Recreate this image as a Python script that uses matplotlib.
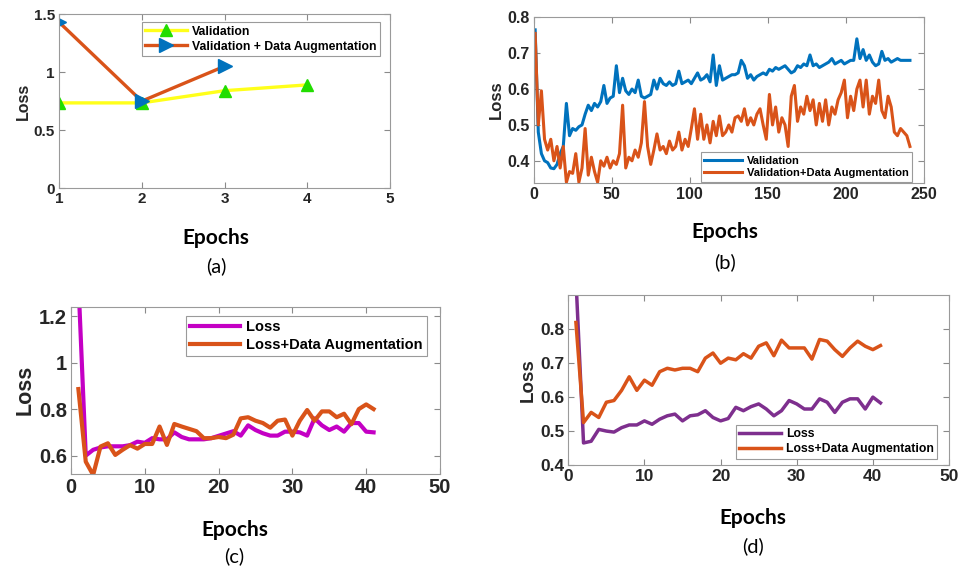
import numpy as np
import matplotlib
matplotlib.use("Agg")
import matplotlib.pyplot as plt
from matplotlib.ticker import FuncFormatter

# ---- (a) ----
ep_a_val = [1, 2, 3, 4]
loss_a_val = [0.735, 0.735, 0.84, 0.89]
ep_a_aug = [1, 2, 3]
loss_a_aug = [1.43, 0.75, 1.05]

# ---- (b) ---- (read every second epoch)
ep_b = list(range(1, 242, 2))
loss_b_val = [
    0.765, 0.48, 0.42, 0.40, 0.395, 0.38, 0.378, 0.39, 0.42, 0.44,
    0.56, 0.47, 0.49, 0.485, 0.495, 0.50, 0.53, 0.555, 0.54, 0.56,
    0.55, 0.565, 0.61, 0.56, 0.575, 0.58, 0.665, 0.59, 0.63, 0.595,
    0.585, 0.60, 0.59, 0.625, 0.58, 0.575, 0.58, 0.585, 0.625, 0.60,
    0.63, 0.615, 0.61, 0.62, 0.61, 0.615, 0.65, 0.615, 0.62, 0.625,
    0.615, 0.63, 0.645, 0.625, 0.63, 0.64, 0.62, 0.695, 0.61, 0.665,
    0.625, 0.63, 0.635, 0.64, 0.64, 0.645, 0.68, 0.665, 0.63, 0.64,
    0.625, 0.635, 0.64, 0.645, 0.64, 0.655, 0.65, 0.66, 0.655, 0.66,
    0.665, 0.655, 0.645, 0.65, 0.665, 0.66, 0.67, 0.665, 0.695, 0.665,
    0.67, 0.66, 0.665, 0.67, 0.675, 0.685, 0.67, 0.675, 0.68, 0.67,
    0.675, 0.68, 0.68, 0.74, 0.685, 0.71, 0.68, 0.695, 0.675, 0.665,
    0.67, 0.705, 0.68, 0.685, 0.675, 0.68, 0.685, 0.68, 0.68, 0.68,
    0.68]
loss_b_aug = [
    0.755, 0.50, 0.595, 0.46, 0.43, 0.46, 0.40, 0.44, 0.38, 0.44,
    0.34, 0.37, 0.365, 0.42, 0.34, 0.38, 0.49, 0.36, 0.41, 0.37,
    0.34, 0.40, 0.385, 0.41, 0.38, 0.40, 0.39, 0.42, 0.555, 0.38,
    0.41, 0.40, 0.43, 0.41, 0.45, 0.565, 0.44, 0.39, 0.43, 0.475,
    0.43, 0.44, 0.42, 0.455, 0.43, 0.44, 0.48, 0.43, 0.46, 0.44,
    0.49, 0.545, 0.46, 0.53, 0.46, 0.50, 0.45, 0.51, 0.47, 0.525,
    0.47, 0.48, 0.50, 0.48, 0.52, 0.525, 0.51, 0.545, 0.50, 0.52,
    0.50, 0.53, 0.545, 0.50, 0.46, 0.585, 0.50, 0.55, 0.48, 0.52,
    0.50, 0.44, 0.58, 0.61, 0.51, 0.55, 0.53, 0.58, 0.54, 0.57,
    0.50, 0.56, 0.51, 0.57, 0.50, 0.55, 0.53, 0.57, 0.59, 0.625,
    0.52, 0.58, 0.54, 0.60, 0.625, 0.55, 0.625, 0.53, 0.58, 0.56,
    0.625, 0.54, 0.52, 0.58, 0.55, 0.48, 0.47, 0.49, 0.48, 0.47,
    0.44]

# ---- (c) ----
ep_cd = list(range(1, 42))
loss_c = [1.35, 0.60, 0.625, 0.635, 0.64, 0.64, 0.64, 0.645, 0.66, 0.655,
          0.675, 0.67, 0.67, 0.70, 0.68, 0.67, 0.67, 0.67, 0.675, 0.685,
          0.695, 0.705, 0.686, 0.73, 0.71, 0.696, 0.686, 0.686, 0.703, 0.703,
          0.70, 0.686, 0.76, 0.73, 0.71, 0.725, 0.703, 0.74, 0.74, 0.703,
          0.70]
loss_c_aug = [0.886, 0.574, 0.517, 0.639, 0.653, 0.603, 0.625, 0.645, 0.63, 0.65,
              0.65, 0.725, 0.646, 0.736, 0.725, 0.715, 0.705, 0.675, 0.675, 0.68,
              0.675, 0.69, 0.76, 0.765, 0.75, 0.74, 0.72, 0.75, 0.755, 0.686,
              0.75, 0.796, 0.75, 0.79, 0.79, 0.765, 0.78, 0.735, 0.80, 0.82,
              0.80]

# ---- (d) ----
loss_d = [0.95, 0.465, 0.47, 0.505, 0.50, 0.497, 0.51, 0.518, 0.518, 0.53,
          0.52, 0.535, 0.545, 0.55, 0.53, 0.545, 0.548, 0.56, 0.54, 0.53,
          0.537, 0.57, 0.56, 0.572, 0.58, 0.565, 0.545, 0.56, 0.59, 0.58,
          0.565, 0.565, 0.595, 0.585, 0.555, 0.585, 0.595, 0.595, 0.565, 0.60,
          0.583]
loss_d_aug = [0.82, 0.525, 0.555, 0.54, 0.585, 0.59, 0.62, 0.66, 0.62, 0.65,
              0.635, 0.675, 0.685, 0.68, 0.685, 0.685, 0.675, 0.715, 0.73, 0.70,
              0.715, 0.71, 0.728, 0.715, 0.75, 0.76, 0.722, 0.768, 0.745, 0.745,
              0.745, 0.712, 0.77, 0.765, 0.74, 0.72, 0.745, 0.765, 0.75, 0.74,
              0.752]

BLUE = '#0072BD'
ORANGE = '#D95319'
PURPLE = '#7E2F8E'
MAGENTA = '#C400C4'
CAPFONT = 'Lato'

plt.rcParams['font.family'] = ['Liberation Sans', 'DejaVu Sans']
plt.rcParams['font.weight'] = 'bold'

W, H = 961, 572
fig = plt.figure(figsize=(W / 100, H / 100), dpi=100)


def add_axes(left, top, right, bottom):
    return fig.add_axes([left / W, 1 - bottom / H, (right - left) / W, (bottom - top) / H])


def style(ax, fs, ylab_fs):
    ax.tick_params(direction='in', top=True, right=True, length=4, width=0.8,
                   color='#8a8a8a', labelsize=fs, labelcolor='#262626', pad=3)
    for s in ax.spines.values():
        s.set_color('#9a9a9a')
        s.set_linewidth(0.8)
    ax.yaxis.set_major_formatter(FuncFormatter(lambda v, p: '%g' % round(v, 3)))
    ax.set_ylabel('Loss', fontsize=ylab_fs, fontweight='bold', color='#262626', labelpad=2)


def caption(x, y1, y2, letter):
    fig.text(x / W, 1 - y1 / H, 'Epochs', ha='center', va='center',
             fontsize=15, fontweight='bold', family=CAPFONT)
    fig.text(x / W, 1 - y2 / H, letter, ha='center', va='center',
             fontsize=14.5, fontweight='normal', family=CAPFONT)


def legend(ax, loc, anchor, fs):
    lg = ax.legend(loc=loc, bbox_to_anchor=anchor, borderaxespad=0, fancybox=False,
                   framealpha=1, edgecolor='#9a9a9a', handlelength=3.4,
                   labelspacing=0.25, borderpad=0.3, handletextpad=0.4,
                   prop={'weight': 'bold', 'size': fs})
    lg.get_frame().set_linewidth(0.8)
    return lg


# (a)
ax = add_axes(59, 14, 390, 188.3)
ax.plot(ep_a_val, loss_a_val, color='#FFFF1A', lw=2.4, marker='^', ms=8,
        mfc='#22DD00', mec='#22DD00', label='Validation')
ax.plot(ep_a_aug, loss_a_aug, color=ORANGE, lw=2.4, marker='>', ms=10,
        mfc=BLUE, mec=BLUE, label='Validation + Data Augmentation')
ax.set_xlim(1, 5)
ax.set_ylim(0, 1.5)
ax.set_xticks([1, 2, 3, 4, 5])
ax.set_yticks([0, 0.5, 1, 1.5])
style(ax, 11, 11.5)
legend(ax, 'upper right', (0.97, 0.954), 8.8)
caption(216, 238, 266, '(a)')

# (b)
ax = add_axes(533.6, 17.3, 924, 182.7)
ax.plot(ep_b, loss_b_val, color=BLUE, lw=2.2, label='Validation')
ax.plot(ep_b, loss_b_aug, color=ORANGE, lw=2.2, label='Validation+Data Augmentation')
ax.set_xlim(0, 250)
ax.set_ylim(0.339, 0.8)
ax.set_xticks([0, 50, 100, 150, 200, 250])
ax.set_yticks([0.4, 0.5, 0.6, 0.7, 0.8])
style(ax, 11.5, 12)
legend(ax, 'lower right', (0.969, 0.006), 8)
caption(725, 232, 262, '(b)')

# (c)
ax = add_axes(71, 306.7, 440, 474)
ax.plot(ep_cd, loss_c, color=MAGENTA, lw=3, label='Loss')
ax.plot(ep_cd, loss_c_aug, color=ORANGE, lw=3, label='Loss+Data Augmentation')
ax.set_xlim(0, 50)
ax.set_ylim(0.521, 1.24)
ax.set_xticks([0, 10, 20, 30, 40, 50])
ax.set_yticks([0.6, 0.8, 1.0, 1.2])
style(ax, 14.5, 15.5)
legend(ax, 'upper right', (0.964, 0.946), 10.5)
caption(234.5, 530, 556.7, '(c)')

# (d)
ax = add_axes(568.3, 295, 949, 465)
ax.plot(ep_cd, loss_d, color=PURPLE, lw=2.5, label='Loss')
ax.plot(ep_cd, loss_d_aug, color=ORANGE, lw=2.5, label='Loss+Data Augmentation')
ax.set_xlim(0, 50)
ax.set_ylim(0.4, 0.901)
ax.set_xticks([0, 10, 20, 30, 40, 50])
ax.set_yticks([0.4, 0.5, 0.6, 0.7, 0.8])
style(ax, 12.5, 13.5)
legend(ax, 'lower right', (0.969, 0.035), 8.8)
caption(753, 517.7, 546.7, '(d)')

fig.savefig('out.png', dpi=100)
